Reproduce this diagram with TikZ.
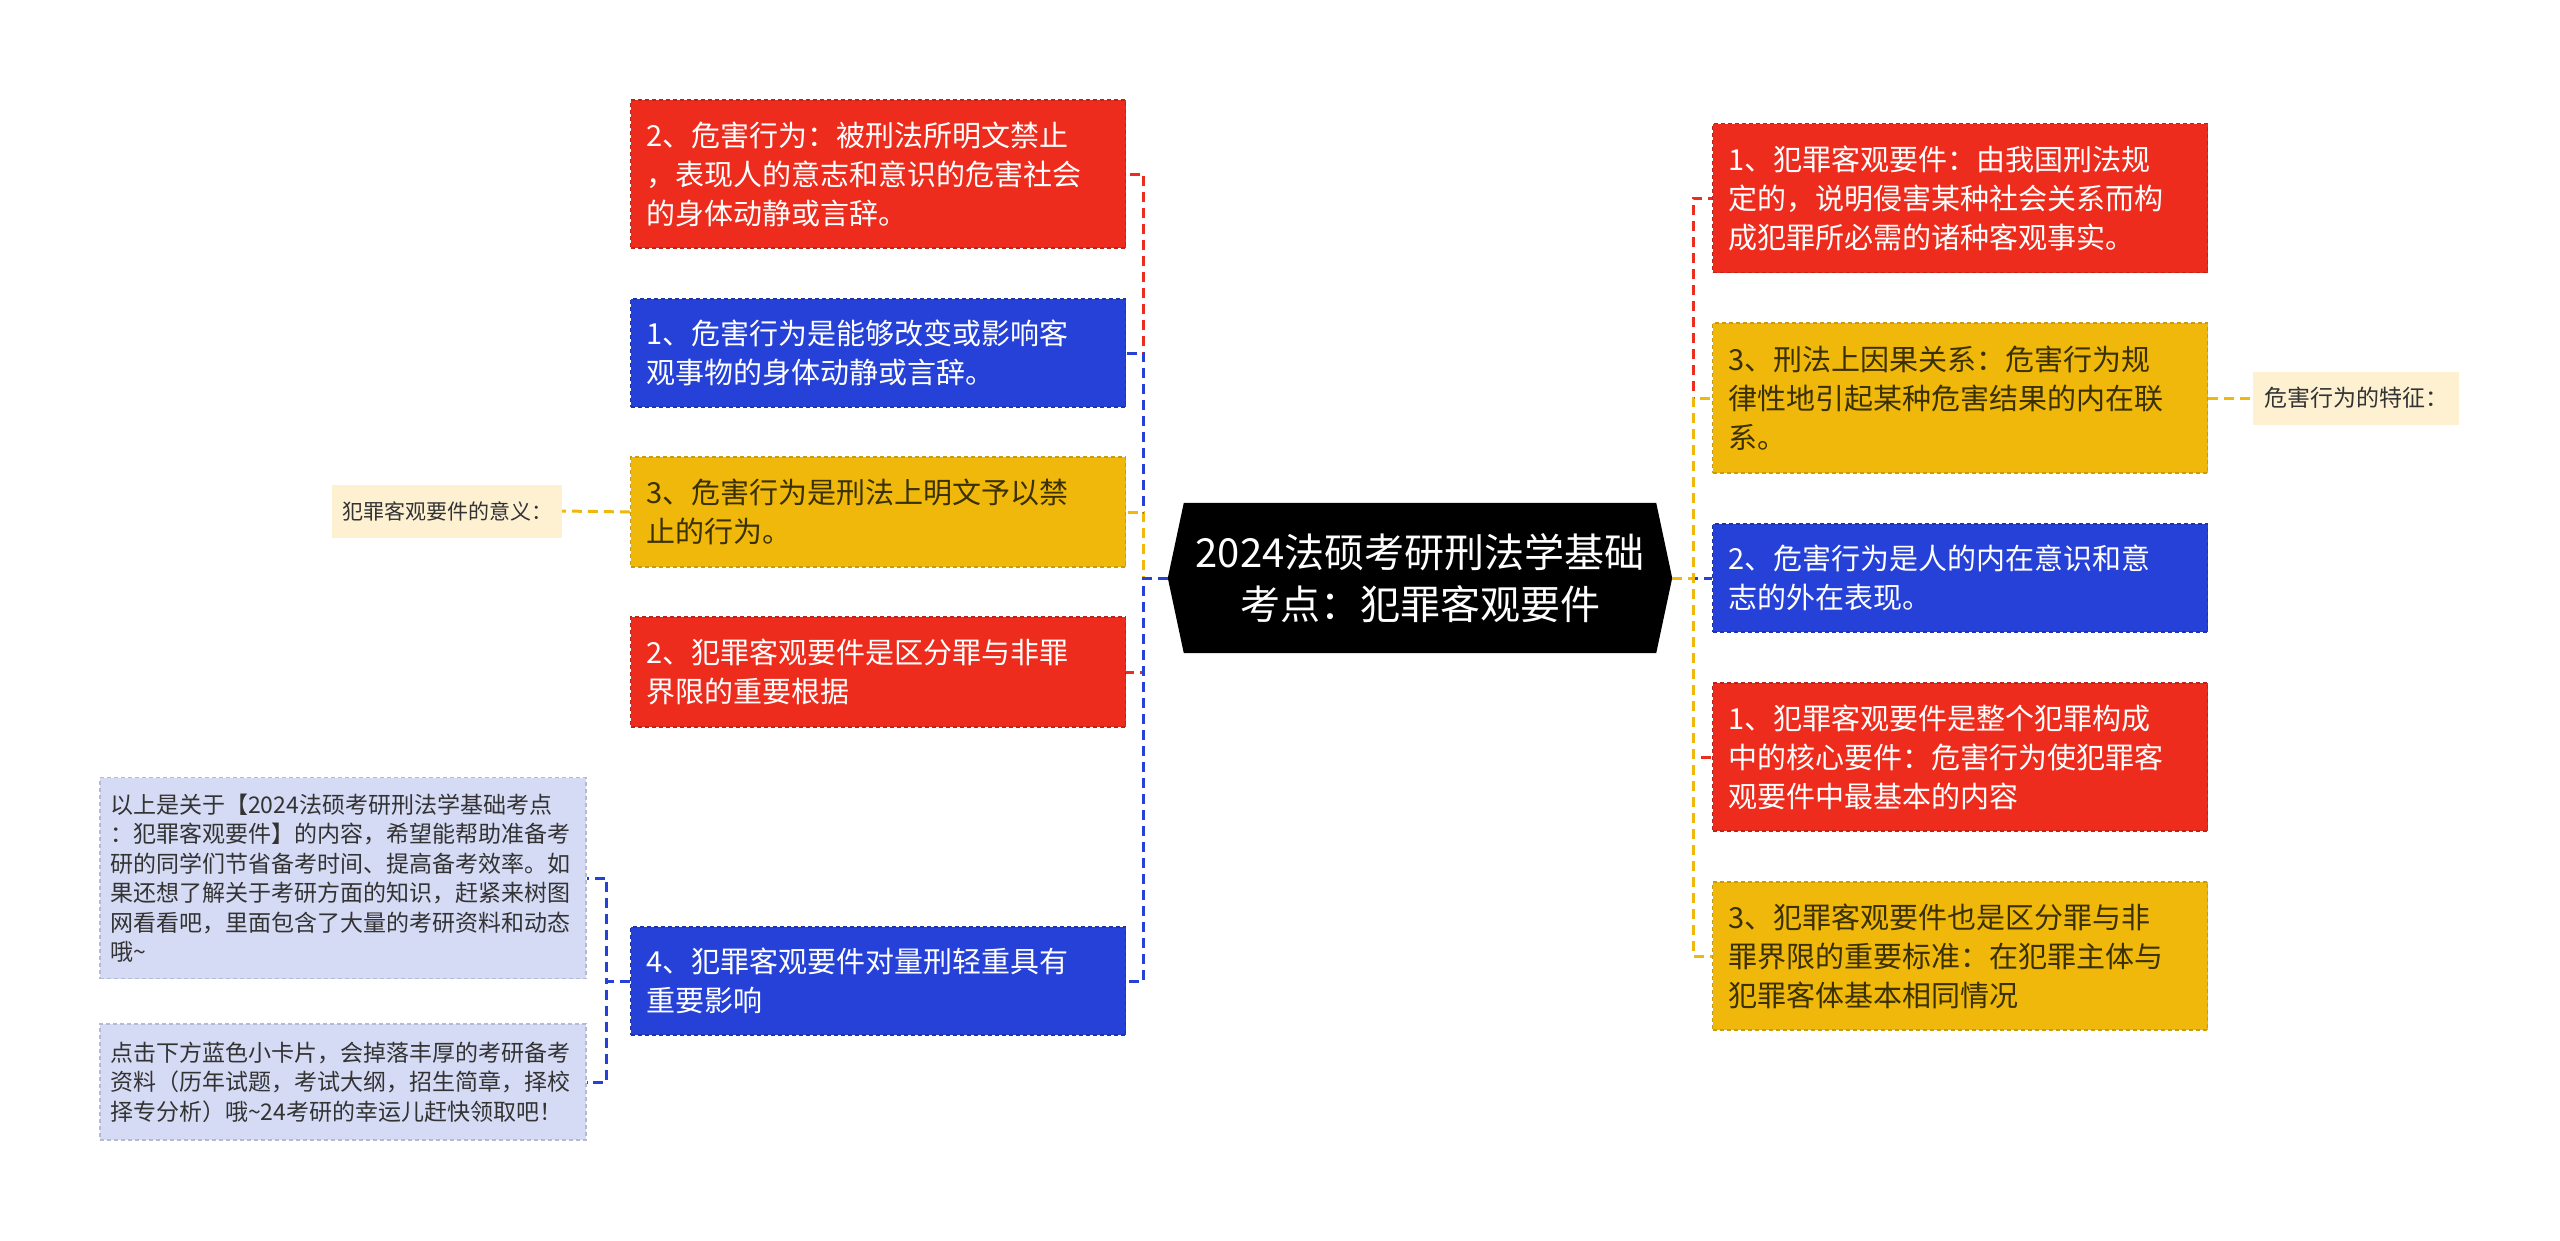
\documentclass[tikz,border=0pt]{standalone}
\usepackage{fontspec}
\newfontfamily\cjk{Noto Sans CJK SC}
\usetikzlibrary{backgrounds}
\definecolor{boxred}{HTML}{EE2C1D}
\definecolor{boxblue}{HTML}{2541D8}
\definecolor{boxyellow}{HTML}{EFB80B}
\definecolor{boxlav}{HTML}{D6DBF5}
\definecolor{boxcream}{HTML}{FDF1D2}
\definecolor{darktext}{HTML}{3A3000}
\definecolor{greytext}{HTML}{333333}

\begin{document}
\begin{tikzpicture}[x=1pt, y=-1pt,
    every node/.style={font=\cjk, align=left},
    topic/.style={text width=463pt, minimum width=495pt, inner xsep=16pt, inner ysep=6pt,
      font=\cjk\fontsize{29}{39}\selectfont, line width=1.4pt, dash pattern=on 4pt off 3pt},
    redbox/.style={topic, fill=boxred, draw=boxred!80!black, text=white},
    bluebox/.style={topic, fill=boxblue, draw=boxblue!80!black, text=white},
    yellowbox/.style={topic, fill=boxyellow, draw=boxyellow!85!black, text=darktext},
    notebox/.style={text width=466pt, minimum width=486pt, inner xsep=10pt, fill=boxlav,
      draw=boxlav!85!black, line width=1.2pt, dash pattern=on 4pt off 3pt, text=greytext,
      font=\cjk\fontsize{23}{29.5}\selectfont},
    tipbox/.style={fill=boxcream, inner xsep=10pt, minimum height=53pt, text=greytext,
      font=\cjk\fontsize{21}{26}\selectfont},
    root/.style={minimum width=472pt, minimum height=150pt, align=center, text=white,
      font=\cjk\fontsize{40}{52}\selectfont},
    link/.style={line width=3pt, dash pattern=on 10pt off 6pt}]
  \useasboundingbox (0,0) rectangle (2560,1240);

  % centre
  \node[root] (root) at (1420,578) {2024法硕考研刑法学基础\\考点：犯罪客观要件};
  \begin{scope}[on background layer]
    \fill[black] (root.north west) -- (root.north east) -- ([xshift=16pt]root.east)
      -- (root.south east) -- (root.south west) -- ([xshift=-16pt]root.west) -- cycle;
  \end{scope}
  \coordinate (rootL) at ([xshift=-16pt]root.west);
  \coordinate (rootR) at ([xshift=16pt]root.east);

  % left branch
  \node[redbox, minimum height=148pt] (l1) at (878,174) {2、危害行为：被刑法所明文禁止\\，表现人的意志和意识的危害社会\\的身体动静或言辞。};
  \node[bluebox, minimum height=108pt] (l2) at (878,353) {1、危害行为是能够改变或影响客\\观事物的身体动静或言辞。};
  \node[yellowbox, minimum height=110pt] (l3) at (878,512) {3、危害行为是刑法上明文予以禁\\止的行为。};
  \node[redbox, minimum height=110pt] (l4) at (878,672) {2、犯罪客观要件是区分罪与非罪\\界限的重要根据};
  \node[bluebox, minimum height=108pt] (l5) at (878,981) {4、犯罪客观要件对量刑轻重具有\\重要影响};

  \node[tipbox] (meaning) at (447,511) {犯罪客观要件的意义：};
  \node[notebox, minimum height=201pt] (c1) at (343,878) {以上是关于【2024法硕考研刑法学基础考点\\：犯罪客观要件】的内容，希望能帮助准备考\\研的同学们节省备考时间、提高备考效率。如\\果还想了解关于考研方面的知识，赶紧来树图\\网看看吧，里面包含了大量的考研资料和动态\\哦\textasciitilde};
  \node[notebox, minimum height=116pt] (c2) at (343,1082) {点击下方蓝色小卡片，会掉落丰厚的考研备考\\资料（历年试题，考试大纲，招生简章，择校\\择专分析）哦\textasciitilde 24考研的幸运儿赶快领取吧！};

  % right branch
  \node[redbox, minimum height=149pt] (r1) at (1960,198) {1、犯罪客观要件：由我国刑法规\\定的，说明侵害某种社会关系而构\\成犯罪所必需的诸种客观事实。};
  \node[yellowbox, minimum height=150pt] (r2) at (1960,398) {3、刑法上因果关系：危害行为规\\律性地引起某种危害结果的内在联\\系。};
  \node[bluebox, minimum height=108pt] (r3) at (1960,578) {2、危害行为是人的内在意识和意\\志的外在表现。};
  \node[redbox, minimum height=148pt] (r4) at (1960,757) {1、犯罪客观要件是整个犯罪构成\\中的核心要件：危害行为使犯罪客\\观要件中最基本的内容};
  \node[yellowbox, minimum height=148pt] (r5) at (1960,956) {3、犯罪客观要件也是区分罪与非\\罪界限的重要标准：在犯罪主体与\\犯罪客体基本相同情况};

  \node[tipbox, font=\cjk\fontsize{23}{28}\selectfont, inner xsep=11pt] (trait) at (2356,398) {危害行为的特征：};

  % connectors
  \draw[link, boxred] (rootL) -- ++(-24,0) |- (l1.east);
  \draw[link, boxred] (rootL) -- ++(-24,0) |- (l4.east);
  \draw[link, boxblue] (rootL) -- ++(-24,0) |- (l2.east);
  \draw[link, boxyellow] (rootL) -- ++(-24,0) |- (l3.east);
  \draw[link, boxblue] (rootL) -- ++(-24,0) |- (l5.east);
  \draw[link, boxyellow] (l3.west) -- (meaning.east);
  \draw[link, boxblue] (l5.west) -- ++(-23,0) |- (c1.east);
  \draw[link, boxblue] (l5.west) -- ++(-23,0) |- (c2.east);

  \draw[link, boxred] (rootR) -- ++(21,0) |- (r1.west);
  \draw[link, boxblue] (rootR) -- ++(21,0) |- (r3.west);
  \draw[link, boxred] (rootR) -- ++(21,0) |- (r4.west);
  \draw[link, boxyellow] (rootR) -- ++(21,0) |- (r2.west);
  \draw[link, boxyellow] (rootR) -- ++(21,0) |- (r5.west);
  \draw[link, boxyellow] (r2.east) -- (trait.west);
\end{tikzpicture}
\end{document}
